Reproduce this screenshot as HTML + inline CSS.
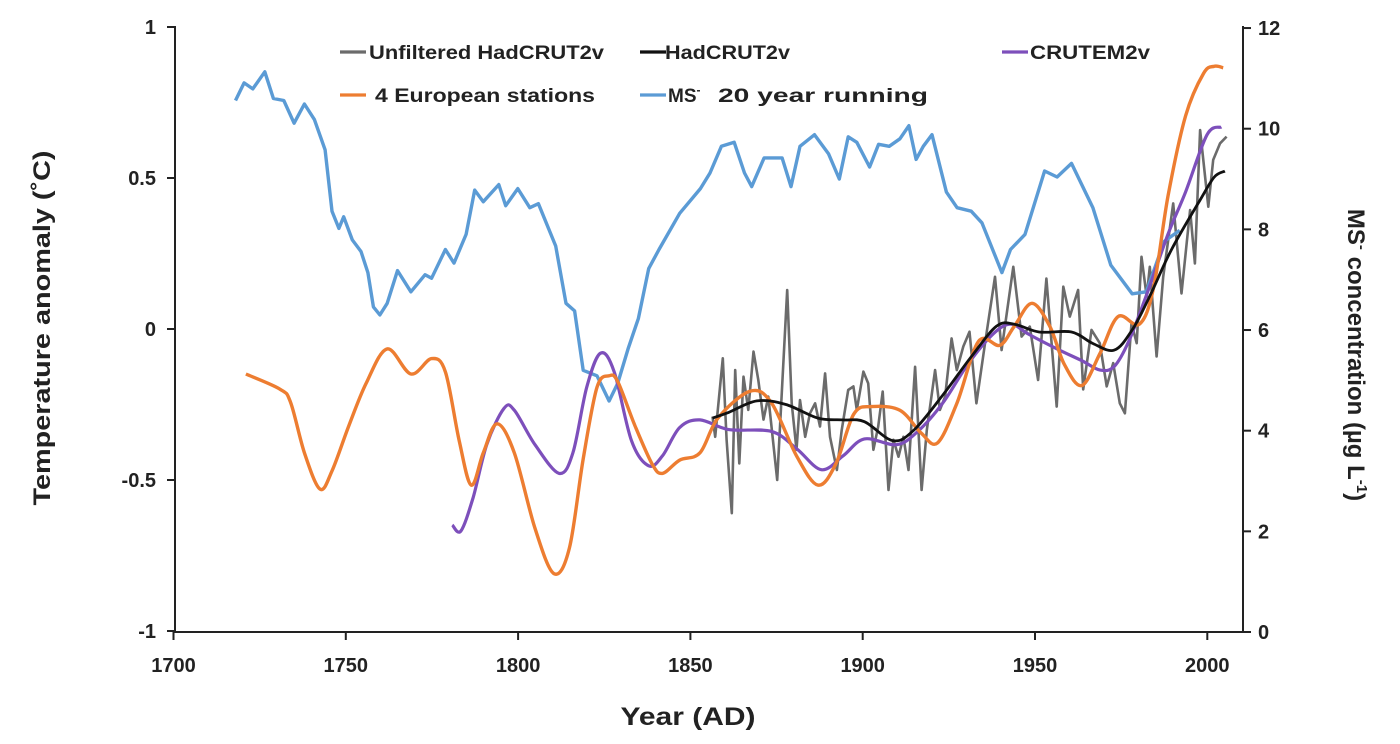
<!DOCTYPE html>
<html><head><meta charset="utf-8"><style>
html,body{margin:0;padding:0;background:#fff;}
svg{display:block;font-family:"Liberation Sans",sans-serif;}
</style></head><body>
<svg id="chart" width="1400" height="744" viewBox="0 0 1400 744" xmlns="http://www.w3.org/2000/svg">
<g id="axes"></g>
<g id="series"></g>
<g id="legend"></g>
</svg>
<script>
const xTicks=[1700,1750,1800,1850,1900,1950,2000];
const leftTicks=[1,0.5,0,-0.5,-1];
const leftTickLabels=["1","0.5","0","-0.5","-1"];
const rightTicks=[0,2,4,6,8,10,12];

const msYears=[1718,1720.5,1723,1726.5,1729,1732,1735,1738,1740.9,1744,1746,1748,1749.4,1751.9,1754.4,1756.4,1758,1759.9,1762,1765,1768.9,1773,1774.9,1778.9,1781.4,1784.9,1787.4,1789.9,1794.4,1796.4,1799.9,1803.4,1805.9,1810.9,1813.9,1816.4,1818.9,1822.9,1826.4,1828.9,1831.9,1834.9,1837.9,1840.9,1846.9,1852.9,1855.7,1859,1862.7,1865.7,1867.8,1871.4,1876.6,1879.2,1881.8,1886,1890.1,1893.2,1895.8,1898.3,1902,1904.6,1907.7,1910.8,1913.4,1915.5,1917.6,1920.1,1924.3,1927.4,1931.5,1934.6,1940.4,1942.9,1947.1,1952.8,1956.4,1960.6,1966.8,1972,1978.2,1982.3,1987.5,1992];
const msValues=[10.56,10.91,10.79,11.13,10.6,10.56,10.11,10.49,10.18,9.58,8.36,8.02,8.25,7.79,7.56,7.14,6.46,6.3,6.53,7.18,6.76,7.1,7.03,7.6,7.33,7.9,8.78,8.55,8.89,8.47,8.81,8.43,8.51,7.67,6.53,6.38,5.2,5.09,4.59,4.94,5.62,6.23,7.22,7.6,8.32,8.81,9.12,9.65,9.73,9.12,8.85,9.42,9.42,8.85,9.65,9.88,9.5,9.0,9.84,9.73,9.24,9.69,9.65,9.8,10.06,9.39,9.65,9.88,8.74,8.43,8.36,8.13,7.14,7.6,7.9,9.16,9.04,9.31,8.43,7.29,6.72,6.76,7.76,7.98];

const euYears=[1721,1731,1734,1738,1742.5,1746,1750.9,1755.9,1762,1768.9,1774.9,1778.9,1782.9,1786.4,1789.9,1793.9,1798.9,1804.9,1810.4,1814.9,1818.9,1822.9,1826.4,1828.9,1833.9,1838.9,1841.9,1846.9,1852.8,1858,1867.3,1873.5,1880.8,1887,1892.2,1897.4,1902.5,1910.8,1917,1921.7,1927.4,1933.6,1939.8,1944,1949.1,1954.3,1958.5,1963.6,1968.9,1974.1,1980.3,1984.4,1988.6,1993.7,1998.9,2002,2004.6];
const euValues=[-0.149,-0.2,-0.244,-0.41,-0.53,-0.47,-0.32,-0.18,-0.066,-0.149,-0.098,-0.142,-0.37,-0.517,-0.41,-0.314,-0.41,-0.66,-0.81,-0.725,-0.43,-0.193,-0.155,-0.174,-0.32,-0.447,-0.478,-0.434,-0.41,-0.295,-0.206,-0.244,-0.42,-0.517,-0.447,-0.282,-0.257,-0.269,-0.345,-0.377,-0.244,-0.041,-0.054,0.009,0.085,0.009,-0.117,-0.187,-0.08,0.041,0.016,0.136,0.44,0.706,0.846,0.87,0.865];

const cruYears=[1780.9,1783.4,1786.9,1790.9,1795.9,1798.9,1804.9,1811.9,1815.9,1819.9,1823.9,1827.9,1832.9,1837.9,1841.9,1846.9,1852.8,1861.1,1873.5,1880.8,1888,1894.3,1900.5,1909.8,1916,1923.3,1930.5,1937.8,1943,1948.1,1956.4,1963.6,1968.9,1973,1977.2,1982.3,1988.6,1993.7,1999.9,2004.1];
const cruValues=[-0.649,-0.669,-0.56,-0.383,-0.263,-0.269,-0.383,-0.478,-0.41,-0.193,-0.08,-0.142,-0.37,-0.453,-0.42,-0.326,-0.301,-0.333,-0.339,-0.396,-0.466,-0.42,-0.364,-0.383,-0.339,-0.244,-0.117,-0.017,0.016,-0.017,-0.066,-0.105,-0.136,-0.124,-0.041,0.111,0.314,0.454,0.643,0.669];

const hadYears=[1856.4,1861.1,1869.3,1877.7,1887,1894.3,1900.5,1908.8,1915,1923.3,1931.5,1938.8,1944,1951.2,1960.6,1966.8,1973,1978.2,1983.4,1989.6,1997.9,2002,2005.1];
const hadValues=[-0.295,-0.276,-0.238,-0.25,-0.295,-0.301,-0.307,-0.37,-0.333,-0.218,-0.092,0.009,0.016,-0.01,-0.01,-0.048,-0.07,-0.003,0.111,0.263,0.427,0.503,0.523];

const rawYears=[1856.4,1857.2,1859.4,1860.5,1862,1863,1864.2,1865.4,1866.8,1868.3,1869.7,1871.2,1872.6,1875.2,1878.1,1879.4,1880.8,1881.8,1883.3,1884.7,1886.2,1887.6,1889.1,1890.5,1892.5,1893.9,1895.8,1897.3,1898.3,1900.2,1901.6,1903.1,1904.5,1905.8,1907.5,1908.9,1910.4,1911.8,1913.3,1915.2,1917.1,1918.6,1921,1922.4,1923.9,1925.8,1927.3,1929.2,1931,1933,1935.5,1938.4,1940.3,1943.7,1946.1,1948.5,1950.9,1953.3,1956.3,1958.2,1960.1,1962.5,1964,1966.4,1968.8,1970.8,1972.7,1974.6,1976.1,1978,1979.5,1980.9,1982.4,1983.3,1985.3,1987.2,1990.1,1992.5,1995,1996.4,1997.9,2000.3,2001.7,2003.7,2005.6];
const rawValues=[-0.29,-0.357,-0.097,-0.367,-0.61,-0.136,-0.445,-0.158,-0.268,-0.075,-0.169,-0.3,-0.224,-0.5,0.129,-0.246,-0.4,-0.235,-0.357,-0.279,-0.246,-0.323,-0.147,-0.357,-0.467,-0.335,-0.202,-0.19,-0.268,-0.141,-0.18,-0.4,-0.323,-0.207,-0.533,-0.367,-0.423,-0.357,-0.467,-0.125,-0.533,-0.335,-0.136,-0.268,-0.224,-0.031,-0.136,-0.058,-0.009,-0.246,-0.048,0.173,-0.07,0.206,-0.025,0.008,-0.169,0.167,-0.257,0.14,0.041,0.129,-0.2,-0.003,-0.047,-0.19,-0.113,-0.246,-0.279,0.019,-0.047,0.239,0.107,0.206,-0.091,0.173,0.416,0.118,0.394,0.217,0.659,0.405,0.56,0.615,0.637];

const NS="http://www.w3.org/2000/svg";
function xs(yr){return 173.5+(yr-1700)*3.446;}
function yT(t){return 329-t*302;}
function yM(m){return 632-m*50.33;}
function mk(tag,attrs,parent){const e=document.createElementNS(NS,tag);for(const k in attrs)e.setAttribute(k,attrs[k]);parent.appendChild(e);return e;}
const axes=document.getElementById('axes');
const series=document.getElementById('series');
const legend=document.getElementById('legend');

let l=mk('line',{x1:175,y1:26,x2:175,y2:633,stroke:'#222','stroke-width':2},axes);


l=mk('line',{x1:174,y1:632,x2:1244,y2:632,stroke:'#222','stroke-width':2},axes);


l=mk('line',{x1:1243,y1:26,x2:1243,y2:633,stroke:'#222','stroke-width':2},axes);



xTicks.forEach(v=>{
  const x=xs(v);
  const t=mk('line',{x1:x,y1:632,x2:x,y2:640,stroke:'#222','stroke-width':2},axes);
  
  
  const tx=mk('text',{x:x,y:672,'text-anchor':'middle','font-size':20,'font-weight':'bold',fill:'#222'},axes);
  tx.textContent=v;
  
  
});
leftTicks.forEach((v,i)=>{
  const y=yT(v);
  const t=mk('line',{x1:167,y1:y,x2:175,y2:y,stroke:'#222','stroke-width':2},axes);
  
  
  const tx=mk('text',{x:156,y:y+7,'text-anchor':'end','font-size':20,'font-weight':'bold',fill:'#222'},axes);
  tx.textContent=leftTickLabels[i];
  
  
});
rightTicks.forEach(v=>{
  const y=yM(v);
  const t=mk('line',{x1:1243,y1:y,x2:1251,y2:y,stroke:'#222','stroke-width':2},axes);
  
  
  const tx=mk('text',{x:1258,y:y+7,'text-anchor':'start','font-size':20,'font-weight':'bold',fill:'#222'},axes);
  tx.textContent=v;
  
  
});
let tt=mk('text',{x:688,y:725,'text-anchor':'middle','font-size':25,'font-weight':'bold',fill:'#222',textLength:135,lengthAdjust:'spacingAndGlyphs'},axes);
tt.textContent='Year (AD)';


tt=mk('text',{x:0,y:0,'text-anchor':'middle','font-size':24,'font-weight':'bold',fill:'#222',transform:'translate(50,328) rotate(-90)',textLength:355,lengthAdjust:'spacingAndGlyphs'},axes);
tt.textContent='Temperature anomaly (˚C)';


tt=mk('text',{x:0,y:0,'text-anchor':'middle','font-size':24,'font-weight':'bold',fill:'#222',transform:'translate(1348,355) rotate(90)'},axes);
tt.innerHTML='MS<tspan dy="-9" font-size="15">-</tspan><tspan dy="9"> concentration (µg L</tspan><tspan dy="-9" font-size="15">-1</tspan><tspan dy="9">)</tspan>';



function smoothPath(px){
  let d='M'+px[0][0].toFixed(1)+','+px[0][1].toFixed(1);
  for(let i=0;i<px.length-1;i++){
    const p0=px[i-1]||px[i],p1=px[i],p2=px[i+1],p3=px[i+2]||p2;
    const c1=[p1[0]+(p2[0]-p0[0])/6,p1[1]+(p2[1]-p0[1])/6];
    const c2=[p2[0]-(p3[0]-p1[0])/6,p2[1]-(p3[1]-p1[1])/6];
    d+=' C'+c1[0].toFixed(1)+','+c1[1].toFixed(1)+' '+c2[0].toFixed(1)+','+c2[1].toFixed(1)+' '+p2[0].toFixed(1)+','+p2[1].toFixed(1);
  }
  return d;
}
function linePath(px){return 'M'+px.map(p=>p[0].toFixed(1)+','+p[1].toFixed(1)).join(' L');}

const rawPx=rawYears.map((y,i)=>[xs(y),yT(rawValues[i])]);
let p=mk('path',{d:linePath(rawPx),fill:'none',stroke:'#6b6b6b','stroke-width':2.6,'stroke-linejoin':'round'},series);



const msPx=msYears.map((y,i)=>[xs(y),yM(msValues[i])]);
p=mk('path',{d:linePath(msPx),fill:'none',stroke:'#5b9bd5','stroke-width':3.4,'stroke-linejoin':'round'},series);



const cruPx=cruYears.map((y,i)=>[xs(y),yT(cruValues[i])]);
p=mk('path',{d:smoothPath(cruPx),fill:'none',stroke:'#7d4fbb','stroke-width':3.2,'stroke-linejoin':'round'},series);



const euPx=euYears.map((y,i)=>[xs(y),yT(euValues[i])]);
p=mk('path',{d:smoothPath(euPx),fill:'none',stroke:'#ed7d31','stroke-width':3.4,'stroke-linejoin':'round'},series);



const hadPx=hadYears.map((y,i)=>[xs(y),yT(hadValues[i])]);
p=mk('path',{d:smoothPath(hadPx),fill:'none',stroke:'#111','stroke-width':2.8,'stroke-linejoin':'round'},series);



const legItems=[
 ['Unfiltered HadCRUT2v','#6b6b6b',340,59,369,235,'legend-unfiltered-hadcrut2v'],
 ['HadCRUT2v','#111',640,59,665,125,'legend-hadcrut2v'],
 ['CRUTEM2v','#7d4fbb',1002,59,1030,120,'legend-crutem2v'],
 ['4 European stations','#ed7d31',340,102,375,220,'legend-european-stations'],
 ['MS','#5b9bd5',640,102,668,262,'legend-ms-running']
];
legItems.forEach(it=>{
  const g=mk('g',{},legend);
  
  
  mk('line',{x1:it[2],y1:it[3]-7,x2:it[2]+26,y2:it[3]-7,stroke:it[1],'stroke-width':3.2},g);
  if(it[0]==='MS'){
    const t=mk('text',{x:it[4],y:it[3],'font-size':19,'font-weight':'bold',fill:'#222'},g);
    t.innerHTML='MS<tspan dy="-8" font-size="12">-</tspan><tspan x="718" dy="8" textLength="210" lengthAdjust="spacingAndGlyphs">20 year running</tspan>';
  } else {
    const t=mk('text',{x:it[4],y:it[3],'font-size':19,'font-weight':'bold',fill:'#222',textLength:it[5],lengthAdjust:'spacingAndGlyphs'},g);
    t.textContent=it[0];
  }
});
</script>
</body></html>
